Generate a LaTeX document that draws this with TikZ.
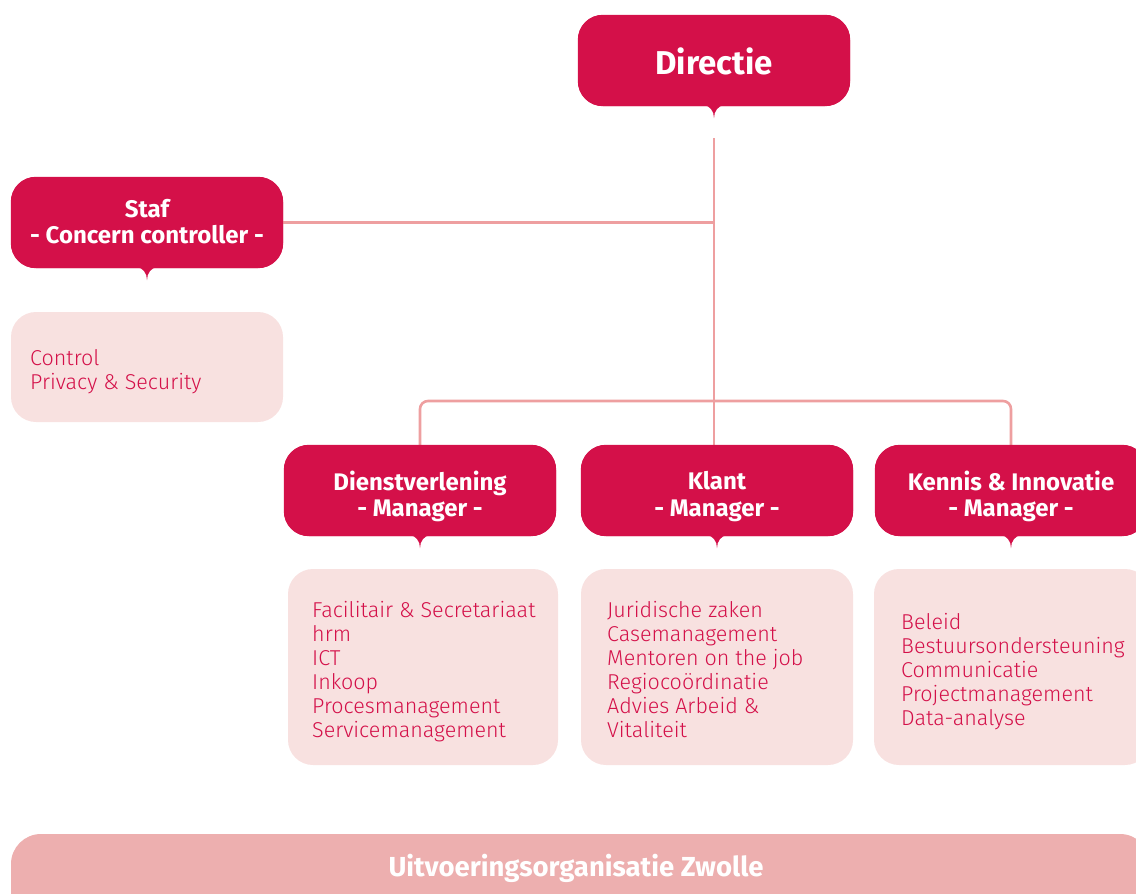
\documentclass[tikz,border=0pt]{standalone}
\usepackage{fontspec}
\setmainfont{Fira Sans}
\newfontfamily\lightfont{Fira Sans Light}
\definecolor{crim}{HTML}{D41049}
\definecolor{lpink}{HTML}{F8E1E0}
\definecolor{linec}{HTML}{EE9FA0}
\definecolor{barc}{HTML}{EDAFAF}
\tikzset{
  headbox/.style={fill=crim, rounded corners=25pt, minimum width=272pt, minimum height=91pt, inner sep=0pt},
  listtext/.style={anchor=north west, inner sep=0pt, align=left, text=crim, font=\lightfont\fontsize{21.5}{24}\selectfont},
  conn/.style={draw=linec, line width=2.6pt},
  htext/.style={text=white, font=\bfseries\fontsize{24}{26.5}\selectfont, align=center, inner sep=0pt},
}
\newcommand{\pointer}[1]{\fill[crim] (#1.south) ++(-11,-1) .. controls +(7,0) and +(0,-7) .. ++(11,13) .. controls +(0,-7) and +(-7,0) .. ++(11,-13) -- cycle;}
\begin{document}
\begin{tikzpicture}[x=1pt,y=-1pt]
\useasboundingbox (0,0) rectangle (1136,894);
\node[headbox] (dir) at (714,60.5) {};
\node[headbox] (staf) at (147,222.5) {};
\node[headbox] (dienst) at (420,490.5) {};
\node[headbox] (klant) at (717,490.5) {};
\node[headbox] (kennis) at (1011,490.5) {};
\coordinate (top) at (714,138);
\coordinate (bus) at (714,401);
\draw[conn] (top) -- (top |- klant.north);
\draw[conn] (staf.east) -- (staf.east -| top);
\draw[conn, rounded corners=8pt] (dienst.north) |- (bus) -| (kennis.north);
\fill[crim, rounded corners=25pt] (dir.south west) rectangle (dir.north east);
\fill[crim, rounded corners=25pt] (staf.south west) rectangle (staf.north east);
\fill[crim, rounded corners=25pt] (dienst.south west) rectangle (dienst.north east);
\fill[crim, rounded corners=25pt] (klant.south west) rectangle (klant.north east);
\fill[crim, rounded corners=25pt] (kennis.south west) rectangle (kennis.north east);
\pointer{dir}
\pointer{staf}
\pointer{dienst}
\pointer{klant}
\pointer{kennis}
\node[htext, font=\bfseries\fontsize{33}{38}\selectfont] (tdir) at ([yshift=-1pt]dir.center) {Directie};
\node[htext] (tstaf) at ([yshift=1pt]staf.center) {Staf\\- Concern controller -};
\node[htext] (tdienst) at ([yshift=-6pt]dienst.center) {Dienstverlening\\- Manager -};
\node[htext] (tklant) at ([yshift=-6pt]klant.center) {Klant\\- Manager -};
\node[htext] (tkennis) at ([yshift=-6pt]kennis.center) {Kennis \& Innovatie\\- Manager -};
% list boxes
\fill[lpink, rounded corners=25pt] (11,312) rectangle (283,422);
\fill[lpink, rounded corners=25pt] (288,569) rectangle (558,765);
\fill[lpink, rounded corners=25pt] (581,569) rectangle (853,765);
\fill[lpink, rounded corners=25pt] (874,569) rectangle (1150,765);
\node[listtext] (l1) at (30,349) {Control\\Privacy \& Security};
\node[listtext] (l2) at (312,601) {Facilitair \& Secretariaat\\hrm\\ICT\\Inkoop\\Procesmanagement\\Servicemanagement};
\node[listtext] (l3) at (607,601) {Juridische zaken\\Casemanagement\\Mentoren on the job\\Regiocoördinatie\\Advies Arbeid \&\\Vitaliteit};
\node[listtext] (l4) at (901,613) {Beleid\\Bestuursondersteuning\\Communicatie\\Projectmanagement\\Data-analyse};
% bottom bar
\fill[barc, rounded corners=30pt] (11,834) rectangle (1150,940);
\node[text=white, font=\bfseries\fontsize{27.5}{30}\selectfont] (bar) at (576,868) {Uitvoeringsorganisatie Zwolle};
\end{tikzpicture}
\end{document}
